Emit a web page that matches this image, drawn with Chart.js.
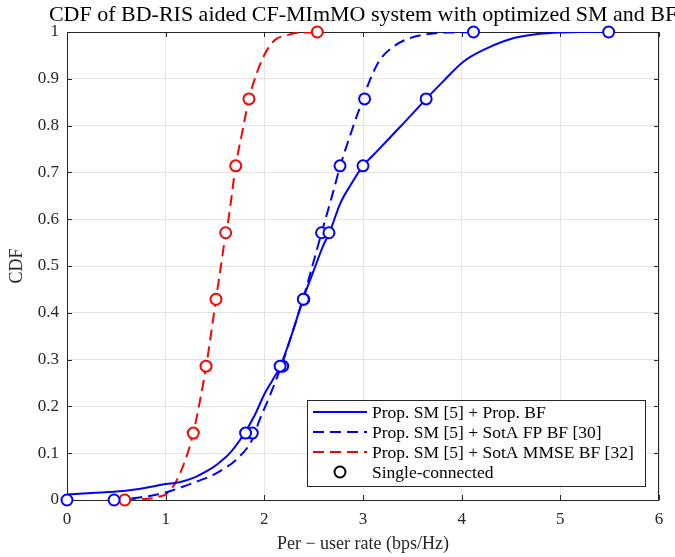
<!DOCTYPE html>
<html>
<head>
<meta charset="utf-8">
<title>CDF chart</title>
<script src="https://cdn.jsdelivr.net/npm/chart.js@4.4.1/dist/chart.umd.min.js"></script>
<style>
    html, body { margin: 0; padding: 0; background: #ffffff; }
    canvas { display: block; }
</style>
</head>
<body>
<canvas id="cdfChart" width="675" height="557"></canvas>
<script>
// ----------------------------------------------------
// DATA
// ----------------------------------------------------
const chartTitle = 'CDF of BD-RIS aided CF-MImMO system with optimized SM and BF';
const xAxisTitle = 'Per \u2212 user rate (bps/Hz)';
const yAxisTitle = 'CDF';
const seriesLabels = ['Prop. SM [5] + Prop. BF', 'Prop. SM [5] + SotA FP BF [30]', 'Prop. SM [5] + SotA MMSE BF [32]'];
const markerLabel = 'Single-connected';

const xTicks = [0, 1, 2, 3, 4, 5, 6];
const yTicks = [0, 0.1, 0.2, 0.3, 0.4, 0.5, 0.6, 0.7, 0.8, 0.9, 1];

// Prop. SM + Prop. BF (solid blue)
const propRate = [0, 0.25, 0.57, 0.8, 1.0, 1.14, 1.3, 1.42, 1.52, 1.65, 1.79, 1.9, 2.0, 2.08, 2.16, 2.28, 2.39, 2.5, 2.6, 2.66, 2.77, 2.88, 3.0, 3.1, 3.2, 3.375, 3.5, 3.64, 3.81, 4.02, 4.255, 4.53, 4.79, 5.0, 5.2, 5.49];
const propCdf  = [0.012, 0.015, 0.019, 0.026, 0.034, 0.038, 0.049, 0.062, 0.076, 0.10, 0.14, 0.18, 0.226, 0.255, 0.285, 0.355, 0.428, 0.49, 0.545, 0.571, 0.634, 0.675, 0.714, 0.736, 0.758, 0.797, 0.825, 0.857, 0.894, 0.937, 0.965, 0.987, 0.996, 0.999, 1.0, 1.0];

// Prop. SM + SotA FP BF (dashed blue)
const fpRate = [0.48, 0.6, 0.75, 0.9, 1.0, 1.14, 1.31, 1.52, 1.75, 1.88, 1.95, 2.05, 2.17, 2.28, 2.39, 2.5, 2.58, 2.68, 2.77, 2.9, 2.985, 3.07, 3.17, 3.31, 3.476, 3.71, 3.9, 4.12];
const fpCdf  = [0, 0.002, 0.006, 0.011, 0.016, 0.026, 0.039, 0.058, 0.093, 0.13, 0.17, 0.22, 0.285, 0.355, 0.428, 0.51, 0.571, 0.645, 0.714, 0.798, 0.848, 0.897, 0.94, 0.969, 0.987, 0.997, 0.999, 1.0];

// Prop. SM + SotA MMSE BF (dashed red)
const mmseRate = [0.585, 0.7, 0.87, 0.95, 1.0, 1.05, 1.1, 1.2, 1.28, 1.35, 1.41, 1.46, 1.51, 1.56, 1.61, 1.635, 1.71, 1.78, 1.844, 1.92, 1.99, 2.06, 2.125, 2.23, 2.29, 2.4, 2.537];
const mmseCdf  = [0, 0.001, 0.004, 0.008, 0.012, 0.022, 0.037, 0.086, 0.143, 0.215, 0.285, 0.355, 0.429, 0.50, 0.571, 0.598, 0.714, 0.79, 0.857, 0.91, 0.947, 0.972, 0.986, 0.993, 0.997, 0.999, 1.0];

// Single-connected markers (same CDF levels for all three)
const markerCdf      = [0, 0.143, 0.286, 0.429, 0.571, 0.714, 0.857, 1];
const propMarkRate   = [0, 1.81, 2.16, 2.395, 2.655, 3.0, 3.64, 5.49];
const fpMarkRate     = [0.477, 1.878, 2.186, 2.40, 2.58, 2.767, 3.016, 4.12];
const mmseMarkRate   = [0.585, 1.28, 1.409, 1.51, 1.608, 1.71, 1.844, 2.537];

// ----------------------------------------------------
// STYLE
// ----------------------------------------------------
const BLUE = '#0000ff';
const RED = '#ff0000';
const AXIS = '#262626';
const GRID = '#e3e3e3';
const SERIF = '"Liberation Serif", "DejaVu Serif", serif';
const DASH = [11, 6];

const toPoints = (xs, ys) => xs.map((x, i) => ({ x: x, y: ys[i] }));

function curve(label, xs, ys, color, dash) {
    return {
        label: label,
        data: toPoints(xs, ys),
        showLine: true,
        borderColor: color,
        backgroundColor: color,
        borderWidth: 2,
        borderDash: dash,
        pointRadius: 0,
        cubicInterpolationMode: 'monotone',
        order: 2
    };
}

function markers(xs, color) {
    return {
        label: markerLabel,
        data: toPoints(xs, markerCdf),
        showLine: false,
        pointStyle: 'circle',
        pointRadius: 5.5,
        pointBorderWidth: 2,
        pointBorderColor: color,
        pointBackgroundColor: '#ffffff',
        clip: false,
        order: 1
    };
}

// axes box + inward ticks, drawn before data (MATLAB look)
const framePlugin = {
    id: 'matlabFrame',
    beforeDatasetsDraw(chart) {
        const { ctx, chartArea: a, scales } = chart;
        ctx.save();
        ctx.strokeStyle = AXIS;
        ctx.lineWidth = 1;
        ctx.strokeRect(a.left + 0.5, a.top + 0.5, a.right - a.left - 1, a.bottom - a.top);
        const len = 5;
        ctx.beginPath();
        xTicks.forEach(v => {
            const px = Math.round(scales.x.getPixelForValue(v)) + 0.5;
            ctx.moveTo(px, a.bottom); ctx.lineTo(px, a.bottom - len);
            ctx.moveTo(px, a.top); ctx.lineTo(px, a.top + len);
        });
        yTicks.forEach(v => {
            const py = Math.round(scales.y.getPixelForValue(v)) + 0.5;
            ctx.moveTo(a.left, py); ctx.lineTo(a.left + len, py);
            ctx.moveTo(a.right, py); ctx.lineTo(a.right - len, py);
        });
        ctx.stroke();
        ctx.restore();
    },
    afterDraw(chart) {
        const { ctx, chartArea: a } = chart;
        ctx.save();
        // title centred over the plot area (overflows on the right like the original)
        ctx.fillStyle = '#000000';
        ctx.font = '22px ' + SERIF;
        ctx.textAlign = 'center';
        ctx.textBaseline = 'alphabetic';
        ctx.fillText(chartTitle, (a.left + a.right) / 2, 21);

        // legend box inside the axes, bottom right
        const bw = 338, bh = 86;
        const bx = a.right - 14 - bw, by = a.bottom - 14 - bh;
        ctx.fillStyle = '#ffffff';
        ctx.fillRect(bx, by, bw, bh);
        ctx.strokeStyle = AXIS;
        ctx.lineWidth = 1;
        ctx.strokeRect(bx + 0.5, by + 0.5, bw, bh);

        const rows = [
            { text: seriesLabels[0], color: BLUE, dash: [] },
            { text: seriesLabels[1], color: BLUE, dash: DASH },
            { text: seriesLabels[2], color: RED, dash: DASH },
            { text: markerLabel, color: '#000000', marker: true }
        ];
        ctx.font = '17.5px ' + SERIF;
        ctx.textAlign = 'left';
        ctx.textBaseline = 'middle';
        rows.forEach((r, i) => {
            const cy = by + 12 + i * 20;
            ctx.strokeStyle = r.color;
            ctx.lineWidth = 2;
            if (r.marker) {
                ctx.setLineDash([]);
                ctx.beginPath();
                ctx.arc(bx + 33, cy, 5.5, 0, Math.PI * 2);
                ctx.stroke();
            } else {
                ctx.setLineDash(r.dash);
                ctx.beginPath();
                ctx.moveTo(bx + 6, cy);
                ctx.lineTo(bx + 60, cy);
                ctx.stroke();
                ctx.setLineDash([]);
            }
            ctx.fillStyle = '#000000';
            ctx.fillText(r.text, bx + 65, cy + 1);
        });
        ctx.restore();
    }
};

// ----------------------------------------------------
// CHART
// ----------------------------------------------------
const ctxCdf = document.getElementById('cdfChart');
new Chart(ctxCdf, {
    type: 'scatter',
    data: {
        datasets: [
            markers(propMarkRate, BLUE),
            markers(fpMarkRate, BLUE),
            markers(mmseMarkRate, RED),
            curve(seriesLabels[0], propRate, propCdf, BLUE, []),
            curve(seriesLabels[1], fpRate, fpCdf, BLUE, DASH),
            curve(seriesLabels[2], mmseRate, mmseCdf, RED, DASH)
        ]
    },
    options: {
        responsive: false,
        animation: false,
        layout: { padding: { top: 32, right: 16, left: 0, bottom: 0 } },
        scales: {
            x: {
                type: 'linear',
                min: 0,
                max: 6,
                afterBuildTicks: s => { s.ticks = xTicks.map(v => ({ value: v })); },
                afterFit: s => { s.height = 57; },
                grid: { color: GRID, drawTicks: false },
                border: { display: false },
                ticks: { color: AXIS, padding: 9, font: { family: SERIF, size: 17 }, callback: v => String(v) },
                title: {
                    display: true,
                    text: xAxisTitle,
                    color: AXIS,
                    padding: { top: 0, bottom: 2 },
                    font: { family: SERIF, size: 18 }
                }
            },
            y: {
                type: 'linear',
                min: 0,
                max: 1,
                afterBuildTicks: s => { s.ticks = yTicks.map(v => ({ value: v })); },
                afterFit: s => { s.width = 67; },
                grid: { color: GRID, drawTicks: false },
                border: { display: false },
                ticks: { color: AXIS, padding: 8, font: { family: SERIF, size: 17 }, callback: v => String(v) },
                title: {
                    display: true,
                    text: yAxisTitle,
                    color: AXIS,
                    padding: { top: 6, bottom: 0 },
                    font: { family: SERIF, size: 18 }
                }
            }
        },
        plugins: {
            legend: { display: false },
            title: { display: false },
            tooltip: { enabled: false }
        }
    },
    plugins: [framePlugin]
});
</script>
</body>
</html>
